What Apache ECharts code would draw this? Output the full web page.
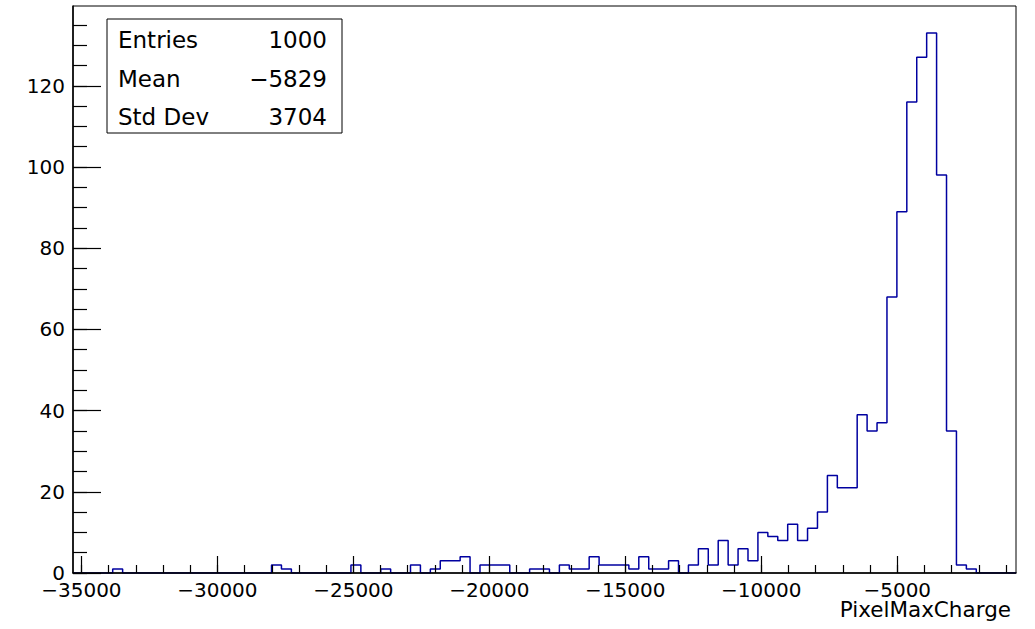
<!DOCTYPE html>
<html>
<head>
<meta charset="utf-8">
<script src="https://cdn.jsdelivr.net/npm/echarts@6/dist/echarts.min.js"></script>
<style>
html,body{margin:0;padding:0;background:#fff;}
#chart{width:1035px;height:629px;}
</style>
</head>
<body>
<div id="chart"></div>
<script>
// ---- data ----
const binCounts = [
  0,0,0,0,1,0,0,0,0,0,
  0,0,0,0,0,0,0,0,0,0,
  2,1,0,0,0,0,0,0,2,0,
  0,1,0,0,2,0,1,3,3,4,
  0,2,2,2,0,0,1,1,0,2,
  1,1,4,2,2,2,1,4,1,1,
  3,0,2,6,2,8,2,6,3,10,
  9,8,12,8,11,15,24,21,21,39,
  35,37,68,89,116,127,133,98,35,2,
  1,0,0,0,0
];
const xMin = -35309;
const binWidth = 365;
const xMax = xMin + binCounts.length * binWidth;
const yMax = 139.65;

const xMajorTicks = [-35000, -30000, -25000, -20000, -15000, -10000, -5000];
const xMinorTicks = [-35000,-34000,-33000,-32000,-31000,-30000,-29000,-28000,-27000,-26000,
  -25000,-24000,-23000,-22000,-21000,-20000,-19000,-18000,-17000,-16000,
  -15000,-14000,-13000,-12000,-11000,-10000,-9000,-8000,-7000,-6000,
  -5000,-4000,-3000,-2000,-1000];
const yMajorTicks = [0, 20, 40, 60, 80, 100, 120];
const yMinorTicks = [0,5,10,15,20,25,30,35,40,45,50,55,60,65,70,75,80,85,90,95,100,105,110,115,120,125,130,135];

const xTitle = 'PixelMaxCharge';
const statsLabels = ['Entries', 'Mean', 'Std Dev'];
const statsValues = ['1000', '\u22125829', '3704'];

// ---- build histogram outline points (bin left edges + final right edge) ----
const histPoints = binCounts.map((c, i) => [xMin + i * binWidth, c]);
histPoints.push([xMax, binCounts[binCounts.length - 1]]);

const FONT = 'DejaVu Sans';
const fmt = v => (v < 0 ? '\u2212' + Math.abs(v) : String(v));

const chart = echarts.init(document.getElementById('chart'), null, {renderer: 'svg'});
const statsY = [39.5, 79, 117.3];
const graphics = [{
  type: 'rect', z: 10,
  shape: {x: 107, y: 19, width: 235, height: 114},
  style: {fill: '#fff', stroke: '#000', lineWidth: 1}
}];
statsLabels.forEach((lab, i) => {
  graphics.push({type: 'text', z: 11, x: 118, y: statsY[i],
    style: {text: lab, fontSize: 23, fontFamily: FONT, fill: '#000', align: 'left', verticalAlign: 'middle'}});
  graphics.push({type: 'text', z: 11, x: 327, y: statsY[i],
    style: {text: statsValues[i], fontSize: 23, fontFamily: FONT, fill: '#000', align: 'right', verticalAlign: 'middle'}});
});

chart.setOption({
  animation: false,
  backgroundColor: '#fff',
  title: {
    text: xTitle, right: 24, top: 601.5, padding: 0,
    textStyle: {fontFamily: FONT, fontSize: 21.5, fontWeight: 'normal', color: '#000', lineHeight: 16}
  },
  grid: {
    left: 73, right: 19, top: 6, bottom: 56,
    show: true, borderColor: '#000', borderWidth: 1, backgroundColor: '#fff',
    containLabel: false, outerBoundsMode: 'none'
  },
  xAxis: [{
    type: 'value', min: xMin, max: xMax, position: 'bottom', z: 5,
    axisLine: {show: true, lineStyle: {color: '#000', width: 1.5}},
    axisTick: {show: true, inside: true, length: 17, customValues: xMajorTicks, lineStyle: {color: '#000', width: 1.2}},
    axisLabel: {show: true, customValues: xMajorTicks, formatter: fmt, fontFamily: FONT, fontSize: 20, color: '#000', margin: 9.5, lineHeight: 15},
    splitLine: {show: false}
  }, {
    type: 'value', min: xMin, max: xMax, position: 'bottom', z: 5,
    axisLine: {show: false},
    axisTick: {show: true, inside: true, length: 8, customValues: xMinorTicks, lineStyle: {color: '#000', width: 1.2}},
    axisLabel: {show: false},
    splitLine: {show: false}
  }],
  yAxis: [{
    type: 'value', min: 0, max: yMax, position: 'left', z: 5,
    axisLine: {show: true, lineStyle: {color: '#000', width: 1.5}},
    axisTick: {show: true, inside: true, length: 28, customValues: yMajorTicks, lineStyle: {color: '#000', width: 1.2}},
    axisLabel: {show: true, customValues: yMajorTicks, formatter: fmt, fontFamily: FONT, fontSize: 20, color: '#000', margin: 8, lineHeight: 15},
    splitLine: {show: false}
  }, {
    type: 'value', min: 0, max: yMax, position: 'left', z: 5,
    axisLine: {show: false},
    axisTick: {show: true, inside: true, length: 14, customValues: yMinorTicks, lineStyle: {color: '#000', width: 1.2}},
    axisLabel: {show: false},
    splitLine: {show: false}
  }],
  series: [{
    name: xTitle,
    type: 'line', xAxisIndex: 0, yAxisIndex: 0,
    step: 'end',
    data: histPoints,
    showSymbol: false, symbol: 'none',
    lineStyle: {color: '#0000a0', width: 1.5},
    z: 2
  }],
  graphic: graphics
});
</script>
</body>
</html>
